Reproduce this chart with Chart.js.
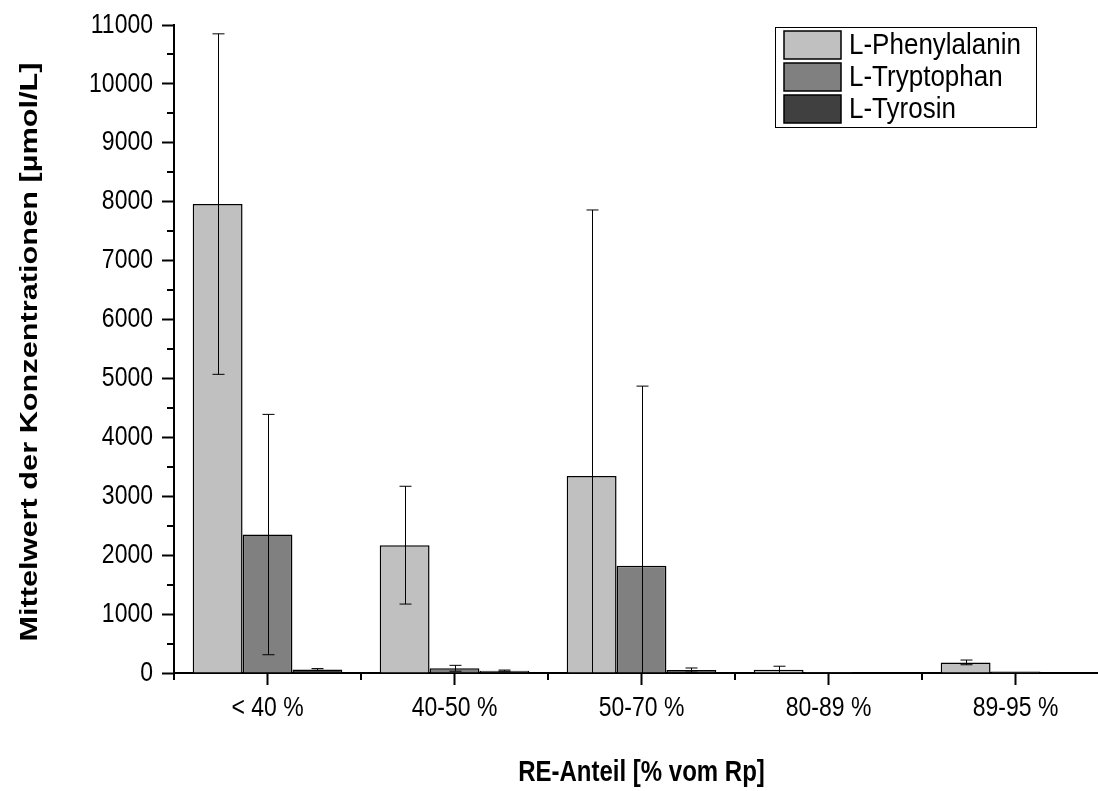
<!DOCTYPE html>
<html>
<head>
<meta charset="utf-8">
<script src="https://cdn.jsdelivr.net/npm/chart.js@4.4.0/dist/chart.umd.min.js"></script>
<style>
  html, body { margin: 0; padding: 0; background: #fff; overflow: hidden; }
  #wrap { width: 1120px; height: 791px; }
</style>
</head>
<body>
<div id="wrap"><canvas id="chart" width="1120" height="791"></canvas></div>
<script>
const categories = ['< 40 %', '40-50 %', '50-70 %', '80-89 %', '89-95 %'];

// means and standard deviations per amino acid
const phenylalanin = [7960, 2170, 3345, 55, 180];
const phenylalaninSd = [2890, 1000, 4515, 60, 40];
const tryptophan = [2350, 80, 1820, 15, 25];
const tryptophanSd = [2040, 50, 3050, 0, 0];
const tyrosin = [60, 40, 50, 5, 0];
const tyrosinSd = [15, 10, 35, 0, 0];

const yMax = 11000;
const yStep = 1000;

const FONT = '"Liberation Sans", Arial, sans-serif';
const STRETCH = 1.2; // text in this plot is drawn taller than wide

function tallText(ctx, text, x, y, sy) {
    ctx.save();
    ctx.translate(x, y);
    ctx.scale(1, sy);
    ctx.fillText(text, 0, 0);
    ctx.restore();
}

// error bars, clipped to the plot area
const errorBars = {
    id: 'errorBars',
    afterDatasetsDraw(chart) {
        const ctx = chart.ctx;
        const y = chart.scales.y;
        const area = chart.chartArea;
        ctx.save();
        ctx.beginPath();
        ctx.rect(area.left, area.top - 20, area.right - area.left, area.bottom - area.top + 20);
        ctx.clip();
        ctx.strokeStyle = '#000';
        ctx.lineWidth = 1;
        chart.data.datasets.forEach((ds, i) => {
            const meta = chart.getDatasetMeta(i);
            meta.data.forEach((bar, j) => {
                const sd = ds.errors[j];
                if (!sd) return;
                const x = Math.round(bar.x) + 0.5;
                const top = y.getPixelForValue(ds.data[j] + sd);
                const bot = y.getPixelForValue(ds.data[j] - sd);
                ctx.beginPath();
                ctx.moveTo(x, top);
                ctx.lineTo(x, Math.min(bot, area.bottom));
                ctx.moveTo(x - 6, top);
                ctx.lineTo(x + 6, top);
                if (bot <= area.bottom) {
                    ctx.moveTo(x - 6, bot);
                    ctx.lineTo(x + 6, bot);
                }
                ctx.stroke();
            });
        });
        ctx.restore();
    }
};

// tick labels, minor ticks, axis titles and the boxed legend
const decorations = {
    id: 'decorations',
    afterDraw(chart) {
        const ctx = chart.ctx;
        const x = chart.scales.x;
        const y = chart.scales.y;
        const area = chart.chartArea;
        ctx.save();
        ctx.strokeStyle = '#000';
        ctx.lineWidth = 2;
        ctx.beginPath();
        for (let v = yStep / 2; v < yMax; v += yStep) {
            const py = Math.round(y.getPixelForValue(v));
            ctx.moveTo(area.left - 7, py);
            ctx.lineTo(area.left, py);
        }
        for (let i = 0; i <= categories.length; i++) {
            const px = Math.round(x.getPixelForValue(i - 0.5));
            ctx.moveTo(px, area.bottom);
            ctx.lineTo(px, area.bottom + 7);
        }
        ctx.stroke();

        ctx.fillStyle = '#000';
        ctx.textBaseline = 'middle';
        ctx.font = '23px ' + FONT;

        ctx.textAlign = 'right';
        y.ticks.forEach((t, i) => {
            tallText(ctx, String(t.value), area.left - 21, y.getPixelForTick(i), STRETCH);
        });
        ctx.textAlign = 'center';
        categories.forEach((c, i) => {
            tallText(ctx, c, x.getPixelForTick(i), area.bottom + 35, STRETCH);
        });

        ctx.font = 'bold 24px ' + FONT;
        tallText(ctx, 'RE-Anteil [% vom Rp]', (area.left + area.right) / 2, 773, STRETCH);
        ctx.save();
        ctx.translate(30, (area.top + area.bottom) / 2 + 3);
        ctx.rotate(-Math.PI / 2);
        ctx.scale(1.28, 1);
        ctx.fillText('Mittelwert der Konzentrationen [µmol/L]', 0, 0);
        ctx.restore();

        // legend
        ctx.lineWidth = 1;
        ctx.strokeStyle = '#000';
        ctx.strokeRect(775.5, 27.5, 261, 100);
        ctx.font = '26px ' + FONT;
        ctx.textAlign = 'left';
        chart.data.datasets.forEach((ds, i) => {
            const top = 31 + i * 32;
            ctx.fillStyle = ds.backgroundColor;
            ctx.fillRect(784, top, 57, 28);
            ctx.lineWidth = 1.5;
            ctx.strokeRect(784, top, 57, 28);
            ctx.fillStyle = '#000';
            tallText(ctx, ds.label, 849, top + 15, 1.12);
        });
        ctx.restore();
    }
};

new Chart(document.getElementById('chart'), {
    type: 'bar',
    data: {
        labels: categories,
        datasets: [
            { label: 'L-Phenylalanin', data: phenylalanin, errors: phenylalaninSd, backgroundColor: '#c0c0c0' },
            { label: 'L-Tryptophan', data: tryptophan, errors: tryptophanSd, backgroundColor: '#808080' },
            { label: 'L-Tyrosin', data: tyrosin, errors: tyrosinSd, backgroundColor: '#404040' }
        ].map(d => Object.assign(d, {
            borderColor: '#000',
            borderWidth: 1.5,
            borderSkipped: 'bottom',
            categoryPercentage: 0.8,
            barPercentage: 1.0
        }))
    },
    options: {
        responsive: false,
        animation: false,
        layout: { padding: { top: 25, right: 11, left: 0, bottom: 0 } },
        plugins: {
            legend: { display: false },
            tooltip: { enabled: false }
        },
        scales: {
            x: {
                afterFit: s => { s.height = 118; },
                grid: {
                    offset: false,
                    drawOnChartArea: false,
                    color: '#000',
                    tickLength: 12,
                    tickWidth: 2
                },
                border: { color: '#000', width: 2 },
                ticks: { display: false }
            },
            y: {
                min: 0,
                max: yMax,
                afterFit: s => { s.width = 174; },
                grid: {
                    drawOnChartArea: false,
                    color: '#000',
                    tickLength: 12,
                    tickWidth: 2
                },
                border: { color: '#000', width: 2 },
                ticks: { display: false, stepSize: yStep }
            }
        }
    },
    plugins: [errorBars, decorations]
});
</script>
</body>
</html>
